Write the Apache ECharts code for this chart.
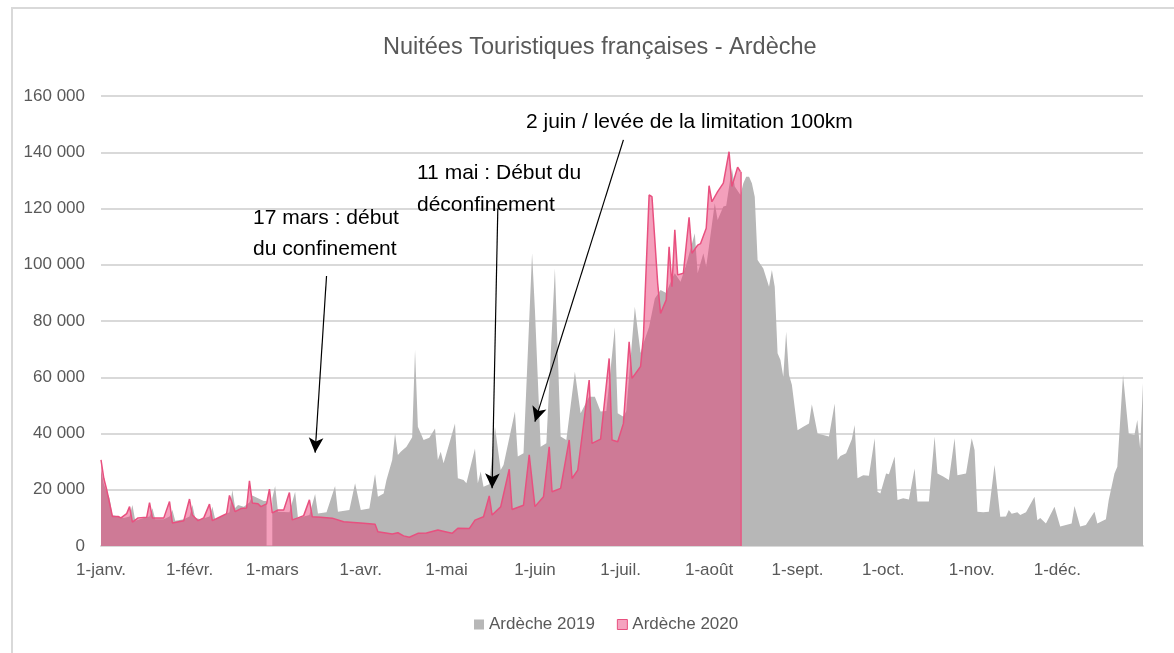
<!DOCTYPE html>
<html>
<head>
<meta charset="utf-8">
<script src="https://cdn.jsdelivr.net/npm/echarts@6/dist/echarts.min.js"></script>
<style>
html, body { margin: 0; padding: 0; background: #fff; }
#chart { width: 1174px; height: 653px; }
</style>
</head>
<body>
<div id="chart"></div>
<script>
// axe des dates (calendrier 2020, 366 jours)
var monthNames = ['janv.', 'févr.', 'mars', 'avr.', 'mai', 'juin', 'juil.', 'août', 'sept.', 'oct.', 'nov.', 'déc.'];
var monthDays = [31, 29, 31, 30, 31, 30, 31, 31, 30, 31, 30, 31];

// Ardèche 2019 : jour de l'année (index) et nuitées ; pas de 29 février en 2019
var days2019 = [0, 1, 3, 4, 8, 10, 11, 12, 15, 17, 18, 19, 22, 24, 25, 26, 29, 31, 32, 33, 35, 38, 39, 40, 43, 45, 46, 47, 48, 50, 52, 53, 55, 57, 58, 59,
  60, 61, 62, 66, 68, 69, 73, 75, 76, 79, 82, 83, 87, 89, 91, 94, 96, 97, 99, 100, 102, 103, 104, 105, 107, 109, 110, 111, 113, 115, 117, 118, 119, 120,
  124, 125, 127, 128, 131, 132, 133, 134, 136, 138, 140, 141, 145, 146, 148, 151, 152, 154, 156, 159, 161, 163, 166, 168, 171, 173, 175, 177, 180, 181,
  183, 184, 187, 189, 190, 192, 194, 196, 198, 200, 201, 203, 205, 208, 209, 211, 212, 215, 216, 218, 219, 221, 222, 224, 225, 226, 227, 228, 229, 230,
  232, 234, 235, 236, 237, 238, 239, 240, 241, 242, 244, 246, 248, 249, 251, 255, 257, 258, 259, 261, 263, 264, 265, 267, 269, 271, 272, 273, 275, 276,
  278, 279, 281, 283, 285, 286, 290, 292, 293, 295, 297, 299, 300, 303, 305, 306, 307, 309, 311, 313, 315, 317, 318, 319, 321, 322, 324, 327, 328, 329,
  331, 334, 336, 338, 340, 341, 343, 345, 348, 349, 352, 353, 355, 356, 358, 360, 362, 363, 364, 365];
var values2019 = [27000, 22000, 17000, 11000, 10000, 10500, 14600, 9000, 10000, 10500, 13400, 9500, 9500, 10500, 12800, 9000, 9500, 10500, 14600, 10000, 9500, 10500, 14000, 9500, 11000, 12000, 19900, 13500, 14600, 14000, 15500, 18000, 17000, 16000, 16000, null,
  17000, 21300, 12200, 12000, 19300, 10000, 11000, 18500, 11600, 12000, 21300, 12200, 12800, 22300, 12800, 13300, 25600, 17500, 18700, 23500, 30600, 40000, 32400, 33500, 35300, 38700, 69700, 42400, 37700, 38500, 41800, 30600, 33500, 29400,
  43600, 24100, 23500, 22300, 34700, 22300, 26500, 21100, 22000, 42400, 27000, 28800, 47800, 31800, 33000, 104100, 83900, 35300, 36500, 98700, 38900, 37700, 62000, 47200, 53100, 53100, 47800, 48000, 77800, 47200,
  46000, 48000, 85100, 68600, 72000, 78000, 88000, 91000, 90000, 95000, 97000, 94000, 100000, 111200, 97000, 104100, 99300, 121900, 115900, 120700, 121000, 134300, 127800, 124800, 129000, 131300, 131300, 129000, 124200, 101700,
  98700, 92200, 98100, 92200, 68500, 66100, 60200, 76200, 60800, 57300, 41200, 42400, 43600, 50400, 40000, 38900, 50700, 30600, 32000, 33000, 38000, 43000, 24100, 25200, 25000, 38300, 19300, 18700, 25800, 25500,
  31800, 16400, 17000, 16500, 27600, 15800, 15800, 38900, 25800, 24700, 23500, 38300, 25200, 25800, 38300, 34100, 12200, 12000, 12200, 28800, 10400, 10500, 12800, 11500, 12000, 11000, 12000, 17500, 9200, 10000,
  8000, 14000, 6900, 7500, 8000, 14200, 6900, 7500, 12200, 8000, 9500, 16400, 25800, 28200, 60800, 40000, 39500, 44800, 34700, 58000];

// Ardèche 2020 : données jusqu'au 12 août
var days2020 = [0, 1, 2, 4, 6, 7, 9, 10, 11, 13, 16, 17, 18, 22, 24, 25, 29, 31, 32, 34, 36, 38, 39, 42, 44, 45, 47, 49, 51, 52, 53, 55, 56, 58, 59,
  60, 62, 64, 66, 67, 69, 71, 73, 74, 77, 81, 85, 92, 96, 97, 102, 104, 106, 108, 111, 114, 118, 121, 123, 125, 129, 131, 134, 136, 137, 140, 143, 144,
  148, 150, 152, 155, 157, 158, 161, 164, 165, 167, 171, 172, 175, 178, 179, 181, 183, 185, 186, 189, 190, 192, 193, 195, 196, 198, 199, 200, 201, 202,
  204, 206, 207, 209, 210, 212, 213, 214, 216, 218, 220, 221, 223, 224];
var values2020 = [30600, 24000, 20000, 10500, 10500, 10000, 11500, 14000, 8500, 10000, 10200, 15400, 10000, 10000, 15800, 8200, 9000, 16700, 11000, 9000, 10000, 14900, 9000, 10500, 11500, 18000, 12200, 13300, 13500, 23200, 15300, 15000, 14000, 15000, 20200,
  11800, 12800, 12800, 19000, 9300, 10000, 10800, 16400, 10400, 10200, 9900, 8600, 8100, 7700, 5100, 4300, 4700, 3600, 3100, 4500, 4600, 5700, 5000, 4500, 6300, 6200, 9200, 10400, 17800, 11000, 13900, 27300, 13000,
  14500, 32400, 14000, 17500, 35300, 19300, 20500, 37700, 24000, 27000, 59000, 36500, 38000, 66700, 37700, 37100, 43600, 72600, 59600, 63800, 74400, 124800, 124200, 93400, 82700, 87500, 106400, 92200, 112400, 96400,
  97000, 116900, 104100, 107000, 107500, 113000, 128100, 122400, 126000, 129000, 140200, 127800, 134700, 133100];

// annotations : texte et flèche (jour, valeur) départ -> arrivée
var noteTexts = ['17 mars : début\ndu confinement', '11 mai : Début du\ndéconfinement', '2 juin / levée de la limitation 100km'];
var arrowFrom = [[79, 96000], [139, 120000], [183, 144400]];
var arrowTo = [[75, 33200], [137, 20500], [152, 44200]];

var categories = [];
monthNames.forEach(function(m, i) {
	for (var d = 1; d <= monthDays[i]; d++) categories.push(d + '-' + m);
});

function pairs(days, vals) {
	return days.map(function(d, i) { return [d, vals[i] === null ? '-' : vals[i]]; });
}

var lastDay = days2020[days2020.length - 1];
var lastVal = values2020[values2020.length - 1];

var FONT = '"Liberation Sans", sans-serif';
var chart = echarts.init(document.getElementById('chart'));

var option = {
	animation: false,
	title: {
		text: 'Nuitées Touristiques françaises - Ardèche',
		left: 378,
		top: 31,
		textStyle: { fontFamily: FONT, fontWeight: 'normal', fontSize: 23.5, color: '#595959' }
	},
	legend: {
		bottom: 15,
		left: 469,
		icon: 'rect',
		itemWidth: 10,
		itemHeight: 10,
		itemGap: 22,
		textStyle: { fontFamily: FONT, fontSize: 17, color: '#595959' },
		data: [
			{ name: 'Ardèche 2019', itemStyle: { color: '#b7b7b7' } },
			{ name: 'Ardèche 2020', itemStyle: { color: '#f5a3bf', borderColor: '#e8507f', borderWidth: 1 } }
		]
	},
	grid: { left: 101, right: 31, top: 96, bottom: 107 },
	xAxis: {
		type: 'category',
		data: categories,
		boundaryGap: false,
		axisTick: { show: false },
		axisLine: { lineStyle: { color: '#d9d9d9', width: 2 } },
		axisLabel: {
			interval: function(index, value) { return value.indexOf('1-') === 0; },
			margin: 16,
			fontFamily: FONT,
			fontSize: 17,
			color: '#595959'
		}
	},
	yAxis: {
		type: 'value',
		min: 0,
		max: 160000,
		interval: 20000,
		axisLabel: {
			fontFamily: FONT,
			fontSize: 17,
			color: '#595959',
			margin: 16,
			formatter: function(v) { return String(v).replace(/\B(?=(\d{3})+(?!\d))/g, ' '); }
		},
		splitLine: { lineStyle: { color: '#d9d9d9', width: 2 } }
	},
	series: [
		{
			name: 'Ardèche 2019',
			type: 'line',
			data: pairs(days2019, values2019),
			symbol: 'none',
			lineStyle: { width: 0 },
			itemStyle: { color: '#b7b7b7' },
			areaStyle: { color: '#b7b7b7', opacity: 1 },
			silent: true
		},
		{
			name: 'Ardèche 2020',
			type: 'line',
			data: pairs(days2020, values2020),
			symbol: 'none',
			lineStyle: { width: 1.5, color: '#e8507f' },
			itemStyle: { color: '#e8507f' },
			areaStyle: { color: 'rgba(232, 57, 115, 0.48)', opacity: 1 },
			silent: true,
			markLine: {
				silent: true,
				animation: false,
				symbol: ['none', 'none'],
				label: { show: false },
				lineStyle: { color: '#e8507f', width: 1.5, type: 'solid' },
				emphasis: { disabled: true },
				// bord vertical de fin de la série 2020
				data: [[{ coord: [lastDay, lastVal] }, { coord: [lastDay, 0] }]]
			}
		},
		{
			// flèches d'annotation
			name: 'annotations',
			type: 'line',
			data: [],
			silent: true,
			z: 5,
			markLine: {
				silent: true,
				animation: false,
				symbol: ['none', 'arrow'],
				symbolSize: [11, 15],
				label: { show: false },
				lineStyle: { color: '#000', width: 1.2, type: 'solid' },
				emphasis: { disabled: true },
				data: arrowFrom.map(function(p, i) {
					return [{ coord: p }, { coord: arrowTo[i] }];
				})
			}
		}
	],
	graphic: [
		{
			type: 'rect',
			silent: true,
			shape: { x: 12, y: 8, width: 1200, height: 700 },
			style: { fill: 'none', stroke: '#d9d9d9', lineWidth: 2 }
		},
		{ type: 'text', z: 100, x: 253, y: 203, style: { text: noteTexts[0], font: '21px ' + FONT, fill: '#000', lineHeight: 31 } },
		{ type: 'text', z: 100, x: 417, y: 157, style: { text: noteTexts[1], font: '21px ' + FONT, fill: '#000', lineHeight: 32 } },
		{ type: 'text', z: 100, x: 526, y: 107, style: { text: noteTexts[2], font: '21px ' + FONT, fill: '#000', lineHeight: 31 } }
	]
};

chart.setOption(option);
</script>
</body>
</html>
